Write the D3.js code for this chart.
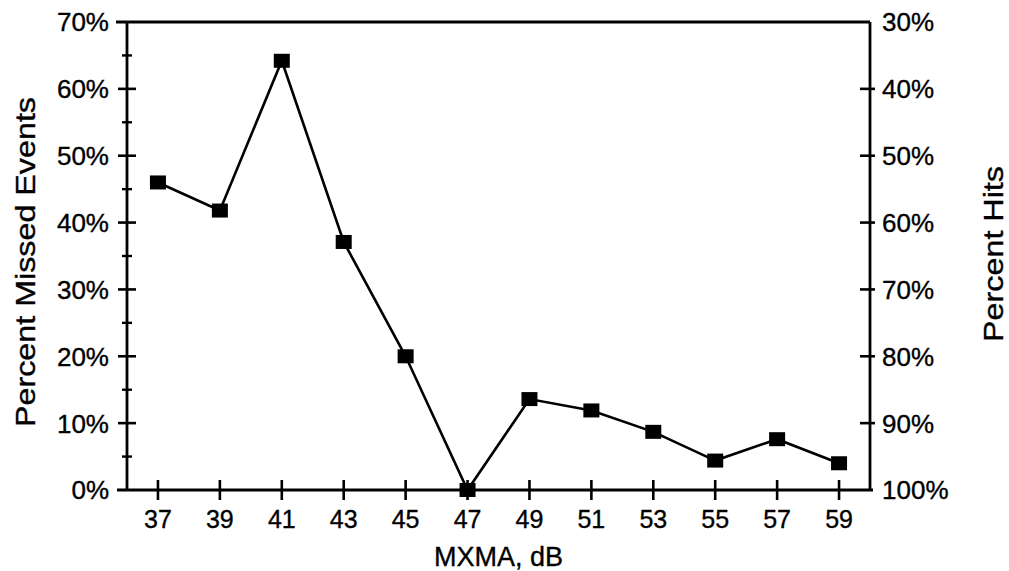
<!DOCTYPE html>
<html>
<head>
<meta charset="utf-8">
<script src="https://cdn.jsdelivr.net/npm/d3@7/dist/d3.min.js"></script>
<style>
  html, body { margin: 0; padding: 0; background: #fff; }
  svg text { font-family: "Liberation Sans", Arial, Helvetica, sans-serif; fill: #000; stroke: #000; stroke-width: 0.35px; }
</style>
</head>
<body>
<svg id="chart" width="1009" height="571"></svg>
<script>
// MXMA threshold (dB) vs. percentage of missed events
const mxma = [37, 39, 41, 43, 45, 47, 49, 51, 53, 55, 57, 59];
const missedPct = [46.0, 41.8, 64.2, 37.1, 20.0, 0.0, 13.6, 11.9, 8.7, 4.4, 7.6, 4.0];

const leftTicks = [0, 10, 20, 30, 40, 50, 60, 70];
const leftMinorTicks = [5, 15, 25, 35, 45, 55, 65];
const hitsTicks = [30, 40, 50, 60, 70, 80, 90, 100];

const xTitle = "MXMA, dB";
const yTitleLeft = "Percent Missed Events";
const yTitleRight = "Percent Hits";

const svg = d3.select("#chart");
const m = { left: 127, right: 870, top: 22, bottom: 490 };

const x = d3.scaleLinear().domain([36, 60]).range([m.left, m.right]);
const y = d3.scaleLinear().domain([0, 70]).range([m.bottom, m.top]);
// Hits = 100% - missed
const yHits = d3.scaleLinear().domain([100, 30]).range([m.bottom, m.top]);

const axisStroke = 2.8;
const g = svg.append("g");

// Frame lines: left axis, right axis, bottom axis, top line
g.append("line").attr("x1", m.left).attr("x2", m.left).attr("y1", m.top).attr("y2", m.bottom)
  .attr("stroke", "#000").attr("stroke-width", axisStroke);
g.append("line").attr("x1", m.right).attr("x2", m.right).attr("y1", m.top).attr("y2", m.bottom)
  .attr("stroke", "#000").attr("stroke-width", axisStroke);
g.append("line").attr("x1", m.left - 10).attr("x2", m.right + 3).attr("y1", m.bottom).attr("y2", m.bottom)
  .attr("stroke", "#000").attr("stroke-width", axisStroke);
g.append("line").attr("x1", m.left - 11).attr("x2", m.right).attr("y1", m.top).attr("y2", m.top)
  .attr("stroke", "#000").attr("stroke-width", axisStroke);

// Left axis: major ticks (crossing) and minor ticks
const leftAxis = g.append("g");
leftAxis.selectAll("line.major").data(leftTicks.filter(d => d > 0 && d < 70)).join("line")
  .attr("class", "major")
  .attr("x1", m.left - 9).attr("x2", m.left + 9)
  .attr("y1", d => y(d)).attr("y2", d => y(d))
  .attr("stroke", "#000").attr("stroke-width", 2.6);
leftAxis.selectAll("line.minor").data(leftMinorTicks).join("line")
  .attr("class", "minor")
  .attr("x1", m.left - 5).attr("x2", m.left + 5)
  .attr("y1", d => y(d)).attr("y2", d => y(d))
  .attr("stroke", "#000").attr("stroke-width", 2.4);
leftAxis.selectAll("text").data(leftTicks).join("text")
  .attr("x", m.left - 18).attr("y", d => y(d))
  .attr("dy", "0.36em")
  .attr("text-anchor", "end")
  .attr("font-size", 26)
  .text(d => d + "%");

// Right axis: percent hits
const rightAxis = g.append("g");
rightAxis.selectAll("line").data(hitsTicks.filter(d => d > 30 && d < 100)).join("line")
  .attr("x1", m.right - 10).attr("x2", m.right + 5)
  .attr("y1", d => yHits(d)).attr("y2", d => yHits(d))
  .attr("stroke", "#000").attr("stroke-width", 2.6);
rightAxis.selectAll("text").data(hitsTicks).join("text")
  .attr("x", m.right + 12).attr("y", d => yHits(d))
  .attr("dy", "0.36em")
  .attr("text-anchor", "start")
  .attr("font-size", 26)
  .text(d => d + "%");

// Bottom axis: crossing ticks at each MXMA level
const bottomAxis = g.append("g");
bottomAxis.selectAll("line").data(mxma).join("line")
  .attr("x1", d => x(d)).attr("x2", d => x(d))
  .attr("y1", m.bottom - 10).attr("y2", m.bottom + 10)
  .attr("stroke", "#000").attr("stroke-width", 2.6);
bottomAxis.selectAll("text").data(mxma).join("text")
  .attr("x", d => x(d)).attr("y", 528)
  .attr("text-anchor", "middle")
  .attr("font-size", 25)
  .text(d => d);

// Axis titles
g.append("text")
  .attr("x", (m.left + m.right) / 2).attr("y", 566)
  .attr("text-anchor", "middle")
  .attr("font-size", 27)
  .text(xTitle);
g.append("text")
  .attr("transform", "translate(35,262) rotate(-90)")
  .attr("text-anchor", "middle")
  .attr("font-size", 28)
  .attr("textLength", 330).attr("lengthAdjust", "spacingAndGlyphs")
  .text(yTitleLeft);
g.append("text")
  .attr("transform", "translate(1003,254) rotate(-90)")
  .attr("text-anchor", "middle")
  .attr("font-size", 28)
  .attr("textLength", 176).attr("lengthAdjust", "spacingAndGlyphs")
  .text(yTitleRight);

// Data line and square markers
const pts = mxma.map((d, i) => ({ x: d, v: missedPct[i] }));
g.append("path")
  .datum(pts)
  .attr("fill", "none")
  .attr("stroke", "#000")
  .attr("stroke-width", 2.6)
  .attr("d", d3.line().x(d => x(d.x)).y(d => y(d.v)));

const mw = 16, mh = 14;
g.selectAll("rect.marker").data(pts).join("rect")
  .attr("class", "marker")
  .attr("x", d => x(d.x) - mw / 2)
  .attr("y", d => y(d.v) - mh / 2)
  .attr("width", mw).attr("height", mh)
  .attr("fill", "#000");
</script>
</body>
</html>
